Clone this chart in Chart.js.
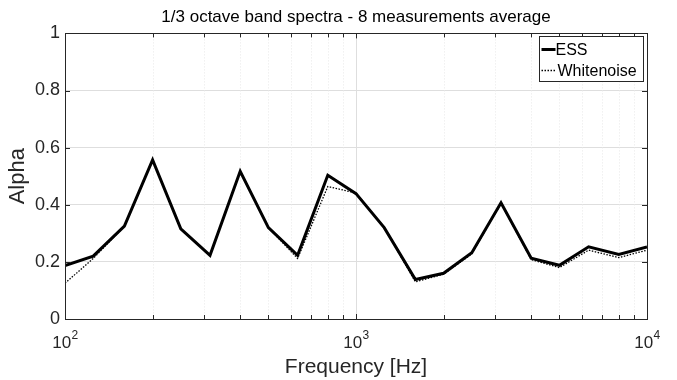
<!DOCTYPE html>
<html>
<head>
<meta charset="utf-8">
<script src="https://cdn.jsdelivr.net/npm/chart.js@4.4.0/dist/chart.umd.min.js"></script>
<style>
html, body { margin: 0; padding: 0; background: #fff; }
#wrap { width: 677px; height: 380px; }
</style>
</head>
<body>
<div id="wrap"><canvas id="chart"></canvas></div>
<script>
// ===== data =====

const bands = [100, 125, 160, 200, 250, 315, 400, 500, 630, 800, 1000,
               1250, 1600, 2000, 2500, 3150, 4000, 5000, 6300, 8000, 10000];

const ess = [0.187, 0.220, 0.325, 0.557, 0.316, 0.223, 0.517, 0.320, 0.223, 0.503, 0.439,
             0.320, 0.138, 0.160, 0.232, 0.407, 0.213, 0.188, 0.253, 0.226, 0.252];

const whitenoise = [0.125, 0.212, 0.325, 0.557, 0.316, 0.223, 0.517, 0.320, 0.212, 0.464, 0.441,
                    0.320, 0.130, 0.157, 0.228, 0.405, 0.208, 0.180, 0.241, 0.215, 0.241];

const decadeTicks = [100, 1000, 10000];
const decadeExp = ['2', '3', '4'];
const minorTicks = [200, 300, 400, 500, 600, 700, 800, 900,
                    2000, 3000, 4000, 5000, 6000, 7000, 8000, 9000];
const yTicks = [0, 0.2, 0.4, 0.6, 0.8, 1];

// ===== plugins =====

const axisColor = '#262626';
const FONT = "'Liberation Sans', Arial, Helvetica, sans-serif";

const matlabAxes = {
    id: 'matlabAxes',
    beforeDatasetsDraw(chart) {
        const { ctx, chartArea: a } = chart;
        const x = chart.scales.x;
        ctx.save();
        // minor dotted grid
        ctx.strokeStyle = '#e8e8e8';
        ctx.lineWidth = 1;
        ctx.setLineDash([1, 2]);
        minorTicks.forEach(v => {
            const px = Math.round(x.getPixelForValue(v)) + 0.5;
            ctx.beginPath();
            ctx.moveTo(px, a.top);
            ctx.lineTo(px, a.bottom);
            ctx.stroke();
        });
        // major grid
        ctx.setLineDash([]);
        ctx.strokeStyle = '#dedede';
        decadeTicks.slice(1, -1).forEach(v => {
            const px = Math.round(x.getPixelForValue(v)) + 0.5;
            ctx.beginPath();
            ctx.moveTo(px, a.top);
            ctx.lineTo(px, a.bottom);
            ctx.stroke();
        });
        ctx.restore();
    },
    afterDatasetsDraw(chart) {
        const { ctx, chartArea: a } = chart;
        const x = chart.scales.x;
        const y = chart.scales.y;
        ctx.save();
        ctx.strokeStyle = axisColor;
        ctx.lineWidth = 1;

        // inward tick marks
        const tl = 5;
        decadeTicks.concat(minorTicks).forEach(v => {
            const px = Math.round(x.getPixelForValue(v)) + 0.5;
            const len = decadeTicks.includes(v) ? tl : tl - 1;
            ctx.beginPath();
            ctx.moveTo(px, a.bottom); ctx.lineTo(px, a.bottom - len);
            ctx.moveTo(px, a.top); ctx.lineTo(px, a.top + len);
            ctx.stroke();
        });
        yTicks.forEach(v => {
            const py = Math.round(y.getPixelForValue(v)) + 0.5;
            ctx.beginPath();
            ctx.moveTo(a.left, py); ctx.lineTo(a.left + tl, py);
            ctx.moveTo(a.right, py); ctx.lineTo(a.right - tl, py);
            ctx.stroke();
        });

        // box
        ctx.strokeRect(Math.round(a.left) + 0.5, Math.round(a.top) + 0.5,
                       Math.round(a.right - a.left), Math.round(a.bottom - a.top));

        // x tick labels: 10 with superscript exponent
        ctx.fillStyle = axisColor;
        ctx.textBaseline = 'alphabetic';
        ctx.textAlign = 'left';
        const baseFont = '17px ' + FONT;
        const expFont = '12px ' + FONT;
        decadeTicks.forEach((v, i) => {
            const px = x.getPixelForValue(v);
            ctx.font = baseFont;
            const w1 = ctx.measureText('10').width;
            ctx.font = expFont;
            const w2 = ctx.measureText(decadeExp[i]).width;
            const left = px - (w1 + w2) / 2;
            ctx.font = baseFont;
            ctx.fillText('10', left, a.bottom + 29);
            ctx.font = expFont;
            ctx.fillText(decadeExp[i], left + w1 + 0.5, a.bottom + 20);
        });

        // legend
        const bw = 104, bh = 45;
        const bx = Math.round(a.right - 4 - bw) + 0.5;
        const by = Math.round(a.top + 3) + 0.5;
        ctx.fillStyle = '#fff';
        ctx.fillRect(bx, by, bw, bh);
        ctx.strokeStyle = axisColor;
        ctx.strokeRect(bx, by, bw, bh);
        ctx.font = '16px ' + FONT;
        ctx.textBaseline = 'middle';
        ctx.fillStyle = '#000';
        chart.data.datasets.forEach((ds, i) => {
            const cy = by + 13 + i * 21;
            ctx.beginPath();
            ctx.strokeStyle = ds.borderColor;
            ctx.lineWidth = ds.borderWidth;
            ctx.setLineDash(ds.borderDash || []);
            ctx.moveTo(bx + 2, cy);
            ctx.lineTo(bx + 16, cy);
            ctx.stroke();
            ctx.setLineDash([]);
            ctx.fillText(ds.label, bx + 16 + i * 2, cy + 1);
        });
        ctx.restore();
    }
};

Chart.register(matlabAxes);

// ===== chart =====

new Chart(document.getElementById('chart'), {
    type: 'line',
    data: {
        datasets: [
            {
                label: 'ESS',
                data: bands.map((f, i) => ({ x: f, y: ess[i] })),
                borderColor: '#000',
                borderWidth: 3,
                pointRadius: 0,
                tension: 0,
                order: 0
            },
            {
                label: 'Whitenoise',
                data: bands.map((f, i) => ({ x: f, y: whitenoise[i] })),
                borderColor: '#000',
                borderWidth: 1.3,
                borderDash: [1.5, 1.5],
                pointRadius: 0,
                tension: 0,
                order: 1
            }
        ]
    },
    options: {
        responsive: true,
        maintainAspectRatio: false,
        animation: false,
        layout: { padding: { left: 0, right: 30, top: 0, bottom: 0 } },
        plugins: {
            legend: { display: false },
            tooltip: { enabled: false },
            title: {
                display: true,
                fullSize: false,
                text: '1/3 octave band spectra - 8 measurements average',
                color: '#000',
                font: { family: FONT, size: 17, weight: 'normal' },
                padding: { top: 7, bottom: 6 }
            }
        },
        scales: {
            x: {
                type: 'logarithmic',
                min: 100,
                max: 10000,
                afterBuildTicks: s => { s.ticks = decadeTicks.map(v => ({ value: v })); },
                afterFit: s => { s.height = 61; },
                ticks: { display: false },
                grid: { display: false, drawTicks: false },
                border: { display: false },
                title: {
                    display: true,
                    text: 'Frequency [Hz]',
                    color: axisColor,
                    font: { family: FONT, size: 21 },
                    padding: { top: 0, bottom: 0 }
                }
            },
            y: {
                min: 0,
                max: 1,
                afterBuildTicks: s => { s.ticks = yTicks.map(v => ({ value: v })); },
                afterFit: s => { s.width = 65; },
                ticks: {
                    color: axisColor,
                    font: { family: FONT, size: 18 },
                    padding: 5,
                    callback: v => String(v)
                },
                grid: { color: '#dedede', drawTicks: false },
                border: { display: false },
                title: {
                    display: true,
                    text: 'Alpha',
                    color: axisColor,
                    font: { family: FONT, size: 22 },
                    padding: { top: 5, bottom: 0 }
                }
            }
        }
    }
});
</script>
</body>
</html>
